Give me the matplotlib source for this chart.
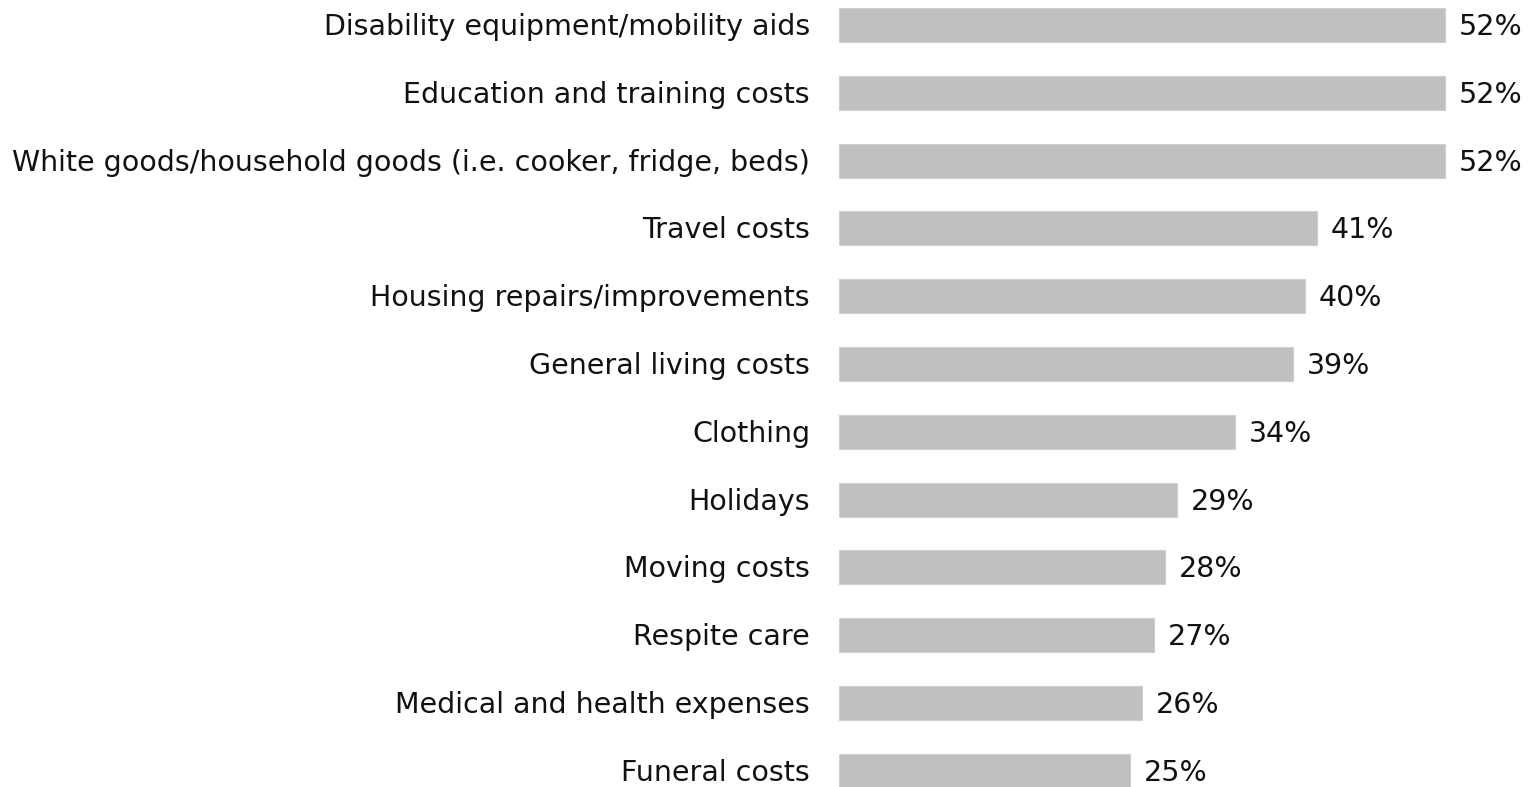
import matplotlib.pyplot as plt

categories = [
    "Disability equipment/mobility aids",
    "Education and training costs",
    "White goods/household goods (i.e. cooker, fridge, beds)",
    "Travel costs",
    "Housing repairs/improvements",
    "General living costs",
    "Clothing",
    "Holidays",
    "Moving costs",
    "Respite care",
    "Medical and health expenses",
    "Funeral costs",
]
values = [52, 52, 52, 41, 40, 39, 34, 29, 28, 27, 26, 25]

W, H = 1532, 787
fig = plt.figure(figsize=(W / 100, H / 100), dpi=100)
ax = fig.add_axes([839 / W, 0, 1 - 839 / W, 1])

ypos = list(range(len(categories)))
ax.barh(ypos, values, height=0.5, color="#c0c0c0", edgecolor="#cfcfcf", linewidth=0.8)

# pixels per percent ~11.65, axes width 693 px
ax.set_xlim(0, (W - 839) / 11.65)
spacing = 67.8
ax.set_ylim((H - 25) / spacing, -25 / spacing)

for y, v in zip(ypos, values):
    ax.text(v + 14 / 11.65, y + 0.03, f"{v}%", va="center", ha="left", fontsize=20.5, color="#111111")

for y, c in zip(ypos, categories):
    ax.text(-29 / 11.65, y + 0.03, c, va="center", ha="right", fontsize=20.5, color="#111111", clip_on=False)

ax.axis("off")
fig.savefig("out.png", dpi=100)
